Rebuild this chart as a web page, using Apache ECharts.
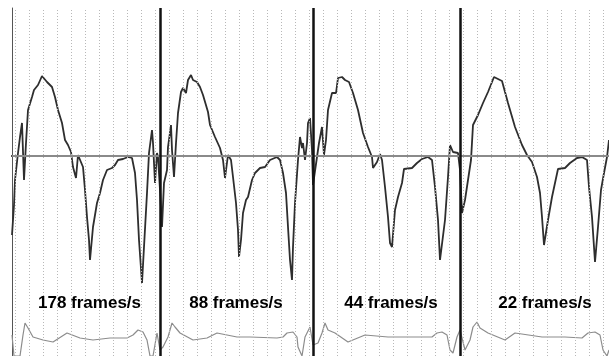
<!DOCTYPE html>
<html>
<head>
<meta charset="utf-8">
<script src="https://cdn.jsdelivr.net/npm/echarts@6/dist/echarts.min.js"></script>
<style>
  html, body { margin: 0; padding: 0; background: #fff; }
  #chart { width: 609px; height: 356px; }
</style>
</head>
<body>
<div id="chart"></div>
<script>
// upper trace: [time, signal]
const mainTrace = [
  [0,-79],[2,-49],[3,-24],[6,3],[8,19],[10,33],[12,-24],[14,13],[16,46],[20,59],[22,66],[24,64],[26,71],
  [30,80],[32,78],[35,74],[37,76],[40,69],[43,59],[46,46],[50,33],[53,16],[56,11],[59,4],[61,-11],[64,-22],
  [66,1],[68,3],[71,-11],[73,-34],[75,-61],[77,-84],[78,-104],[81,-71],[85,-47],[88,-37],[91,-24],[95,-14],
  [100,-12],[103,-9],[106,-4],[111,-3],[116,-1],[120,-2],[123,-17],[125,-44],[127,-84],[130,-127],[132,-91],
  [135,-37],[137,3],[140,26],[141,13],[143,-27],[145,3],[146,-1],[148,-34],
  [150,-71],[152,-27],[155,-14],[156,9],[159,31],[160,6],[162,-21],[164,13],[166,43],[169,64],[171,68],
  [174,63],[176,76],[179,81],[181,76],[185,74],[188,69],[191,61],[196,44],[198,31],[203,19],[208,8],
  [211,-4],[213,-22],[216,1],[219,-4],[221,-21],[224,-47],[226,-74],[227,-101],[229,-84],[231,-57],
  [234,-44],[236,-41],[240,-24],[243,-17],[248,-12],[253,-11],[258,-4],[265,-1],[268,-4],[271,-17],
  [274,-37],[276,-71],[278,-104],[280,-124],[281,-91],[283,-47],[286,-4],[288,19],[290,8],[291,13],
  [293,-4],[295,13],[296,33],[298,38],[300,6],[301,-29],
  [305,-1],[307,13],[310,29],[312,1],[314,16],[316,46],[320,63],[324,63],[326,78],[330,79],[333,76],
  [337,74],[341,63],[346,46],[351,23],[356,9],[360,-1],[361,-12],[365,-6],[368,2],[370,-4],[373,-31],
  [376,-61],[378,-87],[380,-91],[383,-54],[386,-41],[390,-27],[392,-13],[400,-12],[405,-7],[410,-3],
  [416,-1],[420,-4],[423,-31],[426,-64],[428,-104],[430,-106],[433,-64],[436,-21],[438,11],[441,4],
  [446,3],[448,-14],
  [450,-57],[453,-44],[456,-24],[459,-4],[461,31],[466,41],[471,53],[476,64],[482,79],[490,75],[496,53],
  [503,29],[510,11],[515,1],[520,-6],[525,-21],[528,-37],[530,-61],[532,-89],[536,-64],[540,-41],
  [543,-27],[546,-13],[553,-12],[558,-7],[565,-2],[570,-1],[575,-4],[577,-31],[580,-61],[582,-91],
  [583,-106],[586,-71],[589,-34],[592,-17],[595,-1],[597,16]
];

// lower (grey) trace
const lowerTrace = [
  [0,-179],[2,-200],[8,-200],[11,-179],[13,-167],[16,-172],[21,-181],[31,-184],[41,-186],[55,-177],
  [68,-182],[81,-184],[98,-182],[115,-182],[121,-179],[126,-174],[131,-176],[135,-184],[138,-200],
  [141,-200],[145,-177],[148,-194],[151,-191],[156,-181],[160,-167],[163,-171],[168,-177],[181,-184],
  [195,-182],[205,-177],[225,-181],[238,-181],[265,-182],[271,-181],[275,-177],[281,-176],[285,-181],
  [286,-191],[290,-200],[293,-181],[298,-171],[301,-189],[306,-187],[310,-177],[313,-167],[316,-174],
  [323,-177],[336,-186],[353,-179],[376,-181],[400,-181],[420,-181],[425,-177],[430,-176],[435,-179],
  [438,-194],[441,-197],[445,-181],[448,-174],[453,-194],[458,-184],[461,-171],[465,-166],[468,-172],
  [476,-177],[493,-184],[503,-177],[530,-181],[553,-181],[570,-182],[576,-177],[583,-176],[588,-179],
  [591,-194],[595,-200],[597,-194]
];

const panelEdges = [148, 301, 448];
const panelLabels = ["178 frames/s", "88 frames/s", "44 frames/s", "22 frames/s"];
const labelTimes = [77.5, 224, 379, 533];
const labelLevel = -147;
const baseline = 0;

// dotted time grid
const gridFirst = 3.3;
const gridStep = 14;
const gridTimes = [];
for (let t = gridFirst; t <= 597; t += gridStep) gridTimes.push(t);

const chart = echarts.init(document.getElementById("chart"));

const option = {
  animation: false,
  grid: { left: 12, right: 0, top: 8, bottom: 0 },
  xAxis: {
    type: "value",
    min: 0,
    max: 597,
    position: "top",
    axisLine: { show: true, lineStyle: { color: "#111", width: 2 } },
    axisTick: { show: false },
    axisLabel: { show: false },
    splitLine: { show: false }
  },
  yAxis: {
    type: "value",
    min: -200,
    max: 148,
    axisLine: { show: true, lineStyle: { color: "#555", width: 1 } },
    axisTick: { show: false },
    axisLabel: { show: false },
    splitLine: { show: false }
  },
  series: [
    {
      // background grid lines and baseline
      type: "line",
      data: [],
      silent: true,
      z: 1,
      markLine: {
        silent: true,
        symbol: "none",
        label: { show: false },
        animation: false,
        data: gridTimes.map(t => ({
          xAxis: t,
          lineStyle: { color: "#b8b8b8", width: 1, type: [1, 2] }
        })).concat([
          { yAxis: baseline, lineStyle: { color: "#8a8a8a", width: 2, type: "solid" } }
        ])
      }
    },
    {
      name: "lower",
      type: "line",
      data: lowerTrace,
      showSymbol: false,
      z: 2,
      lineStyle: { color: "#8c8c8c", width: 1.2 }
    },
    {
      name: "main",
      type: "line",
      data: mainTrace,
      showSymbol: false,
      z: 3,
      lineStyle: { color: "#2e2e2e", width: 1.8 }
    },
    {
      // panel separators
      type: "line",
      data: [],
      z: 4,
      markLine: {
        silent: true,
        symbol: "none",
        label: { show: false },
        data: panelEdges.map(t => ({
          xAxis: t,
          lineStyle: { color: "#111", width: 2.5, type: "solid" }
        }))
      }
    },
    {
      type: "scatter",
      z: 5,
      symbolSize: 1,
      itemStyle: { color: "rgba(255,255,255,0)", opacity: 1 },
      data: labelTimes.map((t, i) => ({ value: [t, labelLevel], name: panelLabels[i] })),
      label: {
        show: true,
        position: "inside",
        formatter: p => p.name,
        color: "#000",
        opacity: 1,
        textBorderWidth: 0,
        textBorderColor: "transparent",
        fontFamily: "Liberation Sans, Arial, sans-serif",
        fontWeight: "bold",
        fontSize: 17
      }
    }
  ]
};

chart.setOption(option);
window.addEventListener("resize", function () {
  chart.resize();
});
</script>
</body>
</html>
